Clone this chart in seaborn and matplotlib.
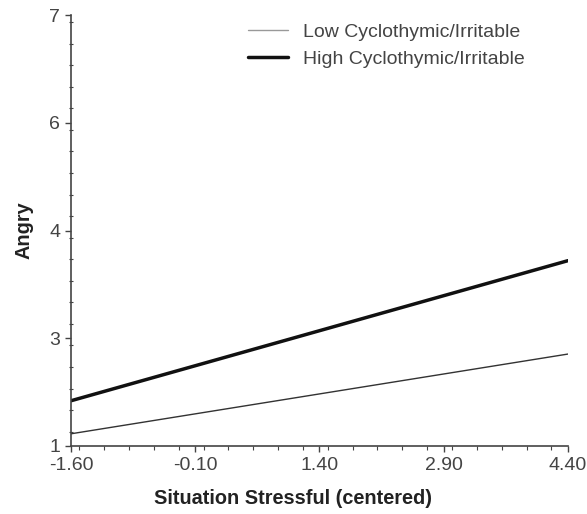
import numpy as np
import pandas as pd
import matplotlib.pyplot as plt
import seaborn as sns
from matplotlib.ticker import MultipleLocator

# Datos
estres = [-1.60, 4.40]
bajo = [1.17, 2.28]
alto = [1.63, 3.58]
grupos = ["Low Cyclothymic/Irritable", "High Cyclothymic/Irritable"]

xticks = [-1.60, -0.10, 1.40, 2.90, 4.40]
xticklabels = ["-1.60", "-0.10", "1.40", "2.90", "4.40"]
yticks = [1, 2.5, 4, 5.5, 7]
yticklabels = ["1", "3", "4", "6", "7"]

df = pd.DataFrame({
    "x": estres * 2,
    "y": bajo + alto,
    "grupo": [grupos[0]] * 2 + [grupos[1]] * 2,
})

sns.set_style("ticks")
plt.rcParams['font.family'] = ['Liberation Sans', 'DejaVu Sans']

fig = plt.figure(figsize=(5.87, 5.14), dpi=100)
ax = fig.add_axes([0.1210, 0.1323, 0.8465, 0.8385])

sns.lineplot(data=df[df.grupo == grupos[0]], x="x", y="y", color="#333333",
             linewidth=1.0, label=grupos[0], ax=ax)
sns.lineplot(data=df[df.grupo == grupos[1]], x="x", y="y", color="#111111",
             linewidth=2.5, label=grupos[1], ax=ax)

ax.set_xlim(-1.60, 4.40)
ax.set_ylim(1, 7)
ax.set_xticks(xticks)
ax.set_xticklabels(xticklabels)
ax.set_yticks(yticks)
ax.set_yticklabels(yticklabels)
ax.xaxis.set_minor_locator(MultipleLocator(0.3))
ax.yaxis.set_minor_locator(MultipleLocator(0.3))

for s in ["top", "right"]:
    ax.spines[s].set_visible(False)
for s in ["left", "bottom"]:
    ax.spines[s].set_color("#444444")
    ax.spines[s].set_linewidth(1.2)

ax.tick_params(axis="x", which="major", direction="out", length=4.3, width=1,
               color="#444444", labelsize=14, labelcolor="#444444", pad=3.5)
ax.tick_params(axis="x", which="minor", direction="out", length=3, width=0.8,
               color="#444444")
ax.tick_params(axis="y", which="major", direction="out", length=4.3, width=1,
               color="#444444", labelsize=14, labelcolor="#444444", pad=3.5)
ax.tick_params(axis="y", which="minor", direction="inout", length=3, width=0.8,
               color="#444444")

ax.set_xlabel("Situation Stressful (centered)", fontsize=14.3, fontweight="bold",
              color="#222222")
# la etiqueta del eje x está centrada en la figura, no en el eje
ax.xaxis.set_label_coords(0.447, -0.10)
ax.set_ylabel("Angry", fontsize=14.3, fontweight="bold", color="#222222")
ax.yaxis.set_label_coords(-0.075, 0.5)

leg = ax.legend(loc="upper right", bbox_to_anchor=(0.913, 0.981), frameon=False,
                fontsize=14, handlelength=2.1, handletextpad=0.75, labelspacing=0.5,
                borderaxespad=0, borderpad=0)
for t in leg.get_texts():
    t.set_color("#444444")
leg.get_lines()[0].set_color("#999999")

plt.savefig("out.png", dpi=100)
